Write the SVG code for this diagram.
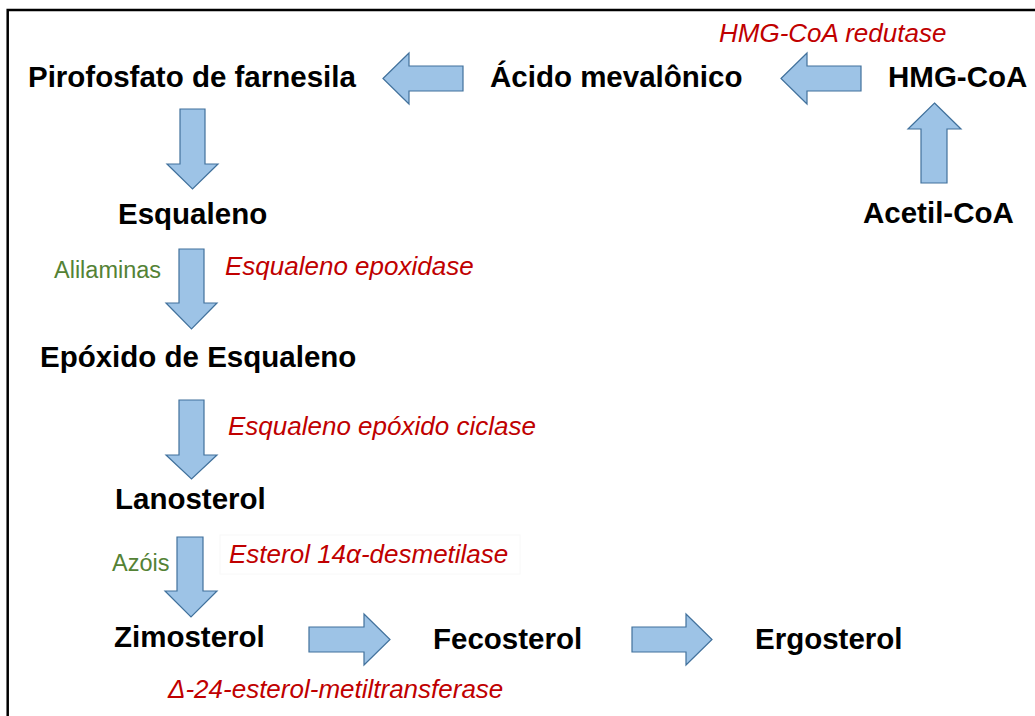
<svg xmlns="http://www.w3.org/2000/svg" width="1035" height="716" viewBox="0 0 1035 716">
<style>
.node{font-family:"Liberation Sans",Arial,sans-serif;font-weight:bold;font-size:29.5px;fill:#000}
.enz{font-family:"Liberation Sans",Arial,sans-serif;font-style:italic;font-size:26px;fill:#C00000}
.inh{font-family:"Liberation Sans",Arial,sans-serif;font-size:23.5px;fill:#548235}
.arr{fill:#9DC3E6;stroke:#41719C;stroke-width:1.2;stroke-linejoin:miter}
</style>
<rect width="1035" height="716" fill="#fff"/>
<path d="M7.7,716 V10 H1035" fill="none" stroke="#000" stroke-width="2.5"/>
<g id="connectors">
<polygon class="arr" points="383,78.5 409,53 409,66 463,66 463,91 409,91 409,104"/>
<polygon class="arr" points="781,78.5 807,53 807,66 861,66 861,91 807,91 807,104"/>
<polygon class="arr" points="934.5,103 961,129 947,129 947,183 921,183 921,129 908,129"/>
<polygon class="arr" points="180,109 205,109 205,164 218,164 192.5,189 167,164 180,164"/>
<polygon class="arr" points="179,249 204,249 204,303 217,303 191.5,329 166,303 179,303"/>
<polygon class="arr" points="179,400 204,400 204,455 217,455 191.5,479 166,455 179,455"/>
<polygon class="arr" points="177,537 203,537 203,591 217,591 191,617 165,591 177,591"/>
<polygon class="arr" points="309,627 364,627 364,614 390,639.5 364,665 364,652 309,652"/>
<polygon class="arr" points="632,627 686,627 686,614 712,639.5 686,665 686,652 632,652"/>
</g>
<g id="n-pirofosfato"><text class="node" x="28" y="87">Pirofosfato de farnesila</text></g>
<g id="n-acido"><text class="node" x="490" y="87">Ácido mevalônico</text></g>
<g id="n-hmgcoa"><text class="node" x="888" y="87">HMG-CoA</text></g>
<g id="n-acetil"><text class="node" x="863" y="223">Acetil-CoA</text></g>
<g id="n-esqualeno"><text class="node" x="118" y="224">Esqualeno</text></g>
<g id="n-epoxido"><text class="node" x="40" y="367">Epóxido de Esqualeno</text></g>
<g id="n-lanosterol"><text class="node" x="115" y="509">Lanosterol</text></g>
<g id="n-zimosterol"><text class="node" x="114" y="647">Zimosterol</text></g>
<g id="n-fecosterol"><text class="node" x="433" y="649">Fecosterol</text></g>
<g id="n-ergosterol"><text class="node" x="755" y="649">Ergosterol</text></g>
<g id="labels">
<text class="enz" x="719" y="42">HMG-CoA redutase</text>
<text class="enz" x="225" y="275">Esqualeno epoxidase</text>
<text class="enz" x="228" y="435">Esqualeno epóxido ciclase</text>
<rect x="220" y="535" width="300" height="39" fill="none" stroke="#f8f8f8" stroke-width="1"/>
<text class="enz" x="229" y="563">Esterol 14α-desmetilase</text>
<text class="enz" x="168" y="698">Δ-24-esterol-metiltransferase</text>
<text class="inh" x="54" y="278">Alilaminas</text>
<text class="inh" x="112" y="571">Azóis</text>
</g>
</svg>
